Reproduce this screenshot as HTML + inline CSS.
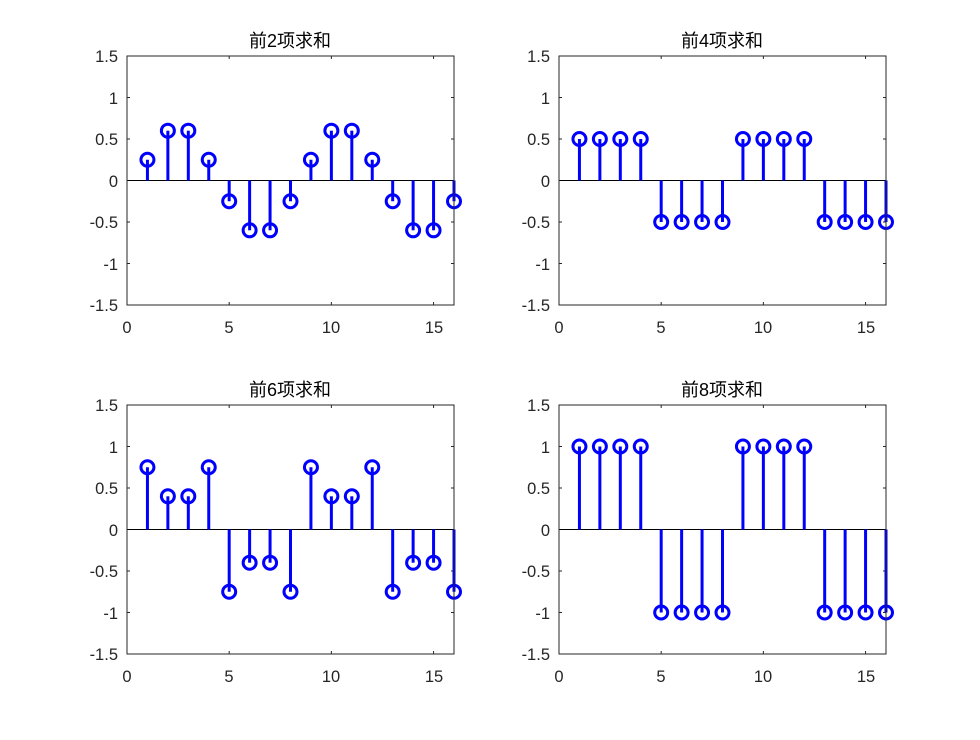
<!DOCTYPE html>
<html><head><meta charset="utf-8"><style>
html,body{margin:0;padding:0;background:#fff;}
svg text{font-family:"Liberation Sans","Noto Sans CJK SC",sans-serif;fill:#262626;font-size:16.5px;}
</style></head><body>
<svg id="s" width="980" height="735" viewBox="0 0 980 735" xmlns="http://www.w3.org/2000/svg">
<rect width="980" height="735" fill="#fff"/>
<g id="g"></g>
<text x="290" y="47" text-anchor="middle" style="font-size:18px;fill:#000">前2项求和</text>
<text x="722" y="47" text-anchor="middle" style="font-size:18px;fill:#000">前4项求和</text>
<text x="290" y="396" text-anchor="middle" style="font-size:18px;fill:#000">前6项求和</text>
<text x="722" y="396" text-anchor="middle" style="font-size:18px;fill:#000">前8项求和</text>
<g text-anchor="end">
<text x="118" y="62">1.5</text><text x="118" y="104">1</text><text x="118" y="145">0.5</text><text x="118" y="187">0</text><text x="118" y="228">-0.5</text><text x="118" y="270">-1</text><text x="118" y="311">-1.5</text>
<text x="550" y="62">1.5</text><text x="550" y="104">1</text><text x="550" y="145">0.5</text><text x="550" y="187">0</text><text x="550" y="228">-0.5</text><text x="550" y="270">-1</text><text x="550" y="311">-1.5</text>
<text x="118" y="411">1.5</text><text x="118" y="453">1</text><text x="118" y="494">0.5</text><text x="118" y="536">0</text><text x="118" y="577">-0.5</text><text x="118" y="619">-1</text><text x="118" y="660">-1.5</text>
<text x="550" y="411">1.5</text><text x="550" y="453">1</text><text x="550" y="494">0.5</text><text x="550" y="536">0</text><text x="550" y="577">-0.5</text><text x="550" y="619">-1</text><text x="550" y="660">-1.5</text>
</g>
<g text-anchor="middle">
<text x="127" y="333">0</text><text x="229" y="333">5</text><text x="331" y="333">10</text><text x="434" y="333">15</text>
<text x="559" y="333">0</text><text x="661" y="333">5</text><text x="763" y="333">10</text><text x="866" y="333">15</text>
<text x="127" y="682">0</text><text x="229" y="682">5</text><text x="331" y="682">10</text><text x="434" y="682">15</text>
<text x="559" y="682">0</text><text x="661" y="682">5</text><text x="763" y="682">10</text><text x="866" y="682">15</text>
</g>
</svg>
<script>
var g=document.getElementById('g'),NS='http://www.w3.org/2000/svg';
function el(t,a){var e=document.createElementNS(NS,t);for(var k in a)e.setAttribute(k,a[k]);g.appendChild(e);}
function axes(x0,y0,d){
 var w=327,h=249,u=w/16,yc=y0+h/2,s=h/3;
 [0,5,10,15].forEach(function(v){var x=x0+v*u;el('line',{x1:x,y1:y0,x2:x,y2:y0+3,stroke:'#262626','stroke-width':1});el('line',{x1:x,y1:y0+h,x2:x,y2:y0+h-3,stroke:'#262626','stroke-width':1});});
 [-1.5,-1,-0.5,0,0.5,1,1.5].forEach(function(v){var y=yc-v*s;el('line',{x1:x0,y1:y,x2:x0+3,y2:y,stroke:'#262626','stroke-width':1});el('line',{x1:x0+w,y1:y,x2:x0+w-3,y2:y,stroke:'#262626','stroke-width':1});});
 el('line',{x1:x0,y1:yc,x2:x0+w,y2:yc,stroke:'#000','stroke-width':1});
 for(var i=1;i<=16;i++){var v=d[(i-1)%8],x=x0+i*u,y=yc-v*s;
  el('line',{x1:x,y1:yc,x2:x,y2:y,stroke:'#0000ff','stroke-width':3});
  el('circle',{cx:x,cy:y,r:6.5,fill:'none',stroke:'#0000ff','stroke-width':3});}
 el('rect',{x:x0,y:y0,width:w,height:h,fill:'none',stroke:'#262626','stroke-width':1});
}
axes(127,56,[0.25,0.6,0.6,0.25,-0.25,-0.6,-0.6,-0.25]);
axes(559,56,[0.5,0.5,0.5,0.5,-0.5,-0.5,-0.5,-0.5]);
axes(127,405,[0.75,0.4,0.4,0.75,-0.75,-0.4,-0.4,-0.75]);
axes(559,405,[1,1,1,1,-1,-1,-1,-1]);
</script>
</body></html>
